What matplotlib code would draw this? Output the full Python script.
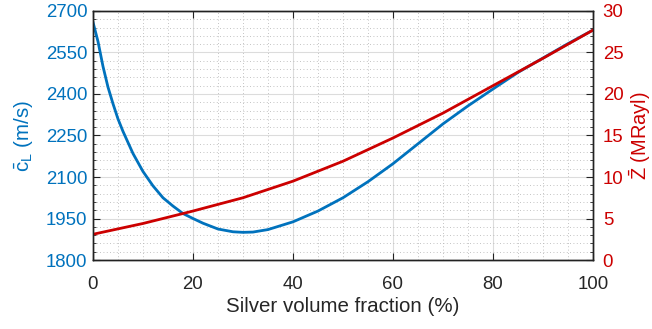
import matplotlib
matplotlib.use("Agg")
import matplotlib.pyplot as plt
from matplotlib.ticker import MultipleLocator

plt.rcParams['font.family'] = ['Liberation Sans', 'DejaVu Sans']
plt.rcParams['mathtext.fontset'] = 'custom'
plt.rcParams['mathtext.rm'] = 'Liberation Sans'
plt.rcParams['mathtext.it'] = 'Liberation Sans:italic'

# Data
x_c = [0, 1, 2, 3, 4, 5, 6, 7, 8, 10, 12, 14, 16, 18, 20, 22, 25, 28, 30, 32, 35,
       40, 45, 50, 55, 60, 65, 70, 75, 80, 85, 90, 95, 100]
c_L = [2660, 2590, 2500, 2425, 2365, 2310, 2265, 2225, 2185, 2120, 2068, 2025, 1995,
       1968, 1950, 1933, 1912, 1902, 1900, 1901, 1910, 1938, 1977, 2025, 2083, 2148,
       2220, 2292, 2357, 2418, 2478, 2530, 2582, 2631]
x_z = [0, 10, 20, 30, 40, 50, 60, 70, 80, 90, 100]
Z = [3.1, 4.4, 5.9, 7.5, 9.5, 11.9, 14.7, 17.7, 21.0, 24.3, 27.7]

xticks = [0, 20, 40, 60, 80, 100]
cticks = [1800, 1950, 2100, 2250, 2400, 2550, 2700]
zticks = [0, 5, 10, 15, 20, 25, 30]

blue = '#0072BD'
red = '#CC0000'
dark = '#262626'
fs = 13.4
lfs = 14.8

fig = plt.figure(figsize=(6.52, 3.29), dpi=100)
ax1 = fig.add_axes([0.1426, 0.2097, 0.9095 - 0.1426, 0.9666 - 0.2097])
ax2 = ax1.twinx()

ax1.plot(x_c, c_L, color=blue, lw=2.0)
ax2.plot(x_z, Z, color=red, lw=2.0)

ax1.set_xlim(0, 100)
ax1.set_ylim(1800, 2700)
ax2.set_ylim(0, 30)
ax1.set_xticks(xticks)
ax1.set_yticks(cticks)
ax2.set_yticks(zticks)
ax1.xaxis.set_minor_locator(MultipleLocator(5))
ax1.yaxis.set_minor_locator(MultipleLocator(30))
ax2.yaxis.set_minor_locator(MultipleLocator(1))

ax1.grid(True, which='major', color='#dcdcdc', lw=0.8, ls='-')
ax1.grid(True, which='minor', color='#b0b0b0', lw=0.6, ls=(0, (1, 3)))
ax1.set_axisbelow(True)

ax1.tick_params(axis='x', which='major', direction='in', length=5, top=True,
                labelsize=fs, labelcolor=dark, color='#222222', pad=11.5)
ax1.tick_params(axis='x', which='minor', length=0, top=False, bottom=False)
ax1.tick_params(axis='y', which='major', direction='in', length=5,
                labelsize=fs, labelcolor=blue, color='#222222', pad=4)
ax1.tick_params(axis='y', which='minor', direction='in', length=2.5, color='#222222')
ax2.tick_params(axis='y', which='major', direction='in', length=5,
                labelsize=fs, labelcolor=red, color='#222222', pad=7)
ax2.tick_params(axis='y', which='minor', direction='in', length=2.5, color='#222222')

for ax in (ax1, ax2):
    for s in ax.spines.values():
        s.set_color('#222222')
        s.set_linewidth(1.0)

ax1.set_xlabel('Silver volume fraction (%)', fontsize=lfs, color=dark, labelpad=3)
ax1.set_ylabel(r'$\bar{\mathrm{c}}_{\mathrm{L}}$ (m/s)', fontsize=lfs, color=blue, labelpad=8)
ax2.set_ylabel(r'$\bar{\mathrm{Z}}$ (MRayl)', fontsize=14.4, color=red, rotation=90)
ax2.yaxis.set_label_coords(1.068, 0.5)

fig.savefig('out.png', dpi=100)
